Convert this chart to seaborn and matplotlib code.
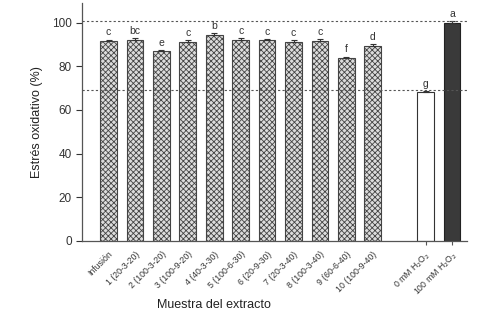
import numpy as np
import pandas as pd
import seaborn as sns
import matplotlib.pyplot as plt

# datos
muestras = ['Infusión', '1 (20-3-20)', '2 (100-3-20)', '3 (100-9-20)', '4 (40-3-30)',
            '5 (100-6-30)', '6 (20-9-30)', '7 (20-3-40)', '8 (100-3-40)', '9 (60-6-40)',
            '10 (100-9-40)', '0 mM H$_2$O$_2$', '100 mM H$_2$O$_2$']
estres = [91.5, 92.3, 87.0, 91.3, 94.2, 92.0, 91.9, 91.4, 91.7, 83.7, 89.4, 68.1, 99.8]
error = [0.8, 0.8, 0.6, 0.8, 0.9, 0.8, 0.7, 0.6, 0.7, 0.8, 0.7, 0.6, 0.8]
letras = ['c', 'bc', 'e', 'c', 'b', 'c', 'c', 'c', 'c', 'f', 'd', 'g', 'a']
lineas_ref = [101.0, 69.0]

sns.set_style('ticks')
plt.rcParams['font.family'] = ['Liberation Sans', 'DejaVu Sans']
plt.rcParams['hatch.linewidth'] = 0.6

df = pd.DataFrame({'muestra': muestras, 'estres': estres})
orden = muestras[:11] + [' '] + muestras[11:]  # hueco entre muestras y controles

fig, ax = plt.subplots(figsize=(4.83, 3.2), dpi=100)
fig.subplots_adjust(left=0.17, right=0.966, bottom=0.248, top=0.99)

sns.barplot(data=df, x='muestra', y='estres', order=orden, width=0.63,
            color='#c8c8c8', errorbar=None, ax=ax)

# estilo de cada barra: cuadriculadas, blanca y negra
for i, p in enumerate(ax.patches):
    if i < 11:
        p.set_facecolor('#dcdcdc')
        p.set_hatch('xxxxxx')
        p.set_edgecolor('#444444')
    elif i == 11:
        p.set_facecolor('white')
        p.set_edgecolor('#333333')
    else:
        p.set_facecolor('#3a3a3a')
        p.set_edgecolor('#222222')
    p.set_linewidth(0.8)

pos = [t for t, lab in zip(ax.get_xticks(), orden) if lab != ' ']
ax.errorbar(pos, estres, yerr=[np.zeros(len(error)), error], fmt='none',
            ecolor='#333333', elinewidth=0.8, capsize=2.5, capthick=0.8)

for x, y, e, l in zip(pos, estres, error, letras):
    ax.text(x, y + e + 1.0, l, ha='center', va='bottom', fontsize=7.5, color='#333333')

for v in lineas_ref:
    ax.axhline(v, color='#555555', linestyle=(0, (2, 2)), linewidth=0.8)

ax.set_xlim(-1, 13.55)
ax.set_ylim(0, 109)
ax.set_yticks([0, 20, 40, 60, 80, 100])
ax.tick_params(axis='y', labelsize=8.5, colors='#333333', length=4, width=0.8)
ax.tick_params(axis='x', length=3, width=0.8, colors='#555555')
ax.set_xticks(ax.get_xticks())
ax.set_xticklabels(orden, rotation=45, ha='right', rotation_mode='anchor',
                   fontsize=6.3, color='#333333')
for i, t in enumerate(ax.xaxis.get_major_ticks()):
    if i < 12:
        t.tick1line.set_visible(False)

ax.set_ylabel('Estrés oxidativo (%)', fontsize=9, color='#222222', labelpad=6)
ax.set_xlabel('Muestra del extracto', fontsize=9, color='#222222')
ax.xaxis.set_label_coords(0.343, -0.245)
sns.despine(ax=ax)
for s in ['left', 'bottom']:
    ax.spines[s].set_color('#555555')
    ax.spines[s].set_linewidth(0.9)

fig.savefig('out.png', dpi=100)
